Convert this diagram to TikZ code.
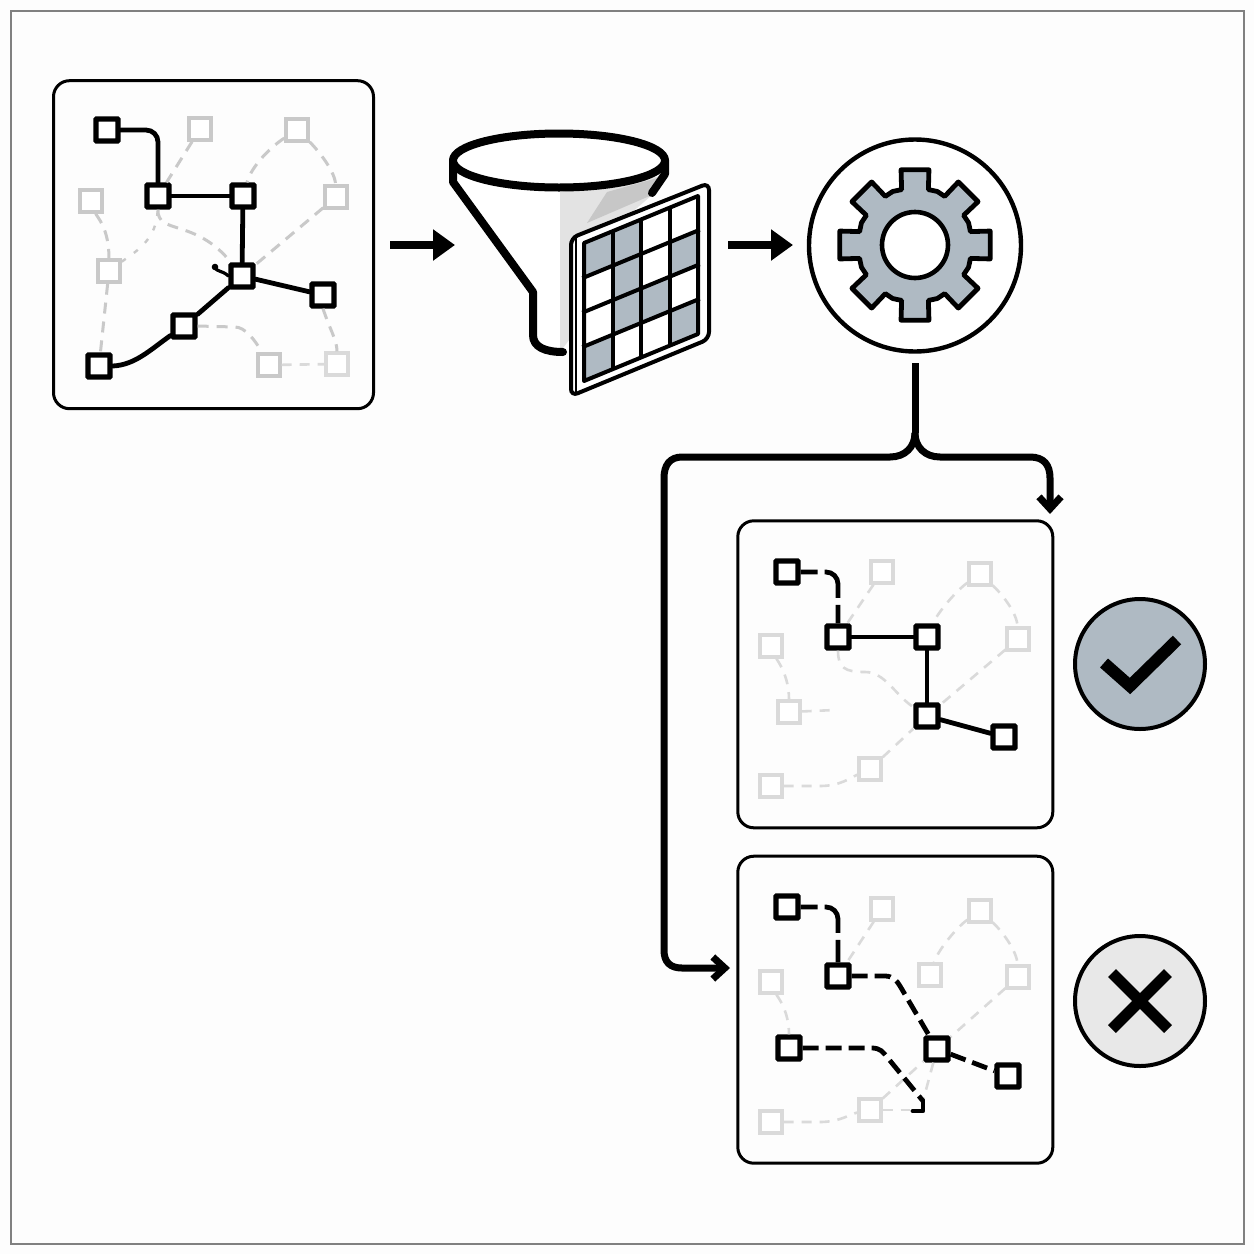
\documentclass[tikz,border=0pt]{standalone}
\usetikzlibrary{arrows.meta,calc}
\definecolor{bgc}{HTML}{FDFDFD}
\definecolor{slate}{HTML}{AFBAC3}
\definecolor{gA}{HTML}{C9C9C9}
\definecolor{gB}{HTML}{DADADA}
\tikzset{
  x=0.5pt,y=-0.5pt,
  panel/.style={draw=black,line width=1.5pt,rounded corners=8pt,fill=bgc},
  blk/.style={draw=black,fill=white,line width=2.6pt,minimum size=11pt,inner sep=0pt,rectangle,rounded corners=0.3pt},
  gryA/.style={draw=gA,fill=white,line width=1.7pt,minimum size=11pt,inner sep=0pt,rectangle},
  gryB/.style={draw=gB,fill=white,line width=1.6pt,minimum size=11pt,inner sep=0pt,rectangle},
  glineA/.style={draw=gA,line width=1.5pt,dash pattern=on 5.5pt off 4pt},
  glineB/.style={draw=gB,line width=1.3pt,dash pattern=on 5pt off 4pt},
  bline/.style={draw=black,line width=2.4pt,line cap=round,line join=round},
  bdash/.style={draw=black,line width=2.4pt,dash pattern=on 8pt off 3.5pt},
  bhook/.style={draw=black,line width=2.4pt,dash pattern=on 8.5pt off 3.5pt on 17pt off 3.5pt on 12pt off 0pt},
  bigarrow/.style={draw=black,line width=4pt,-{Triangle[length=11pt,width=15pt]}},
  branch/.style={draw=black,line width=3.5pt,-{Straight Barb[length=6pt,width=11pt]}},
  fun/.style={draw=black,line width=4pt,line cap=round,line join=round},
}
\begin{document}
\begin{tikzpicture}
\useasboundingbox (0,0) rectangle (1254,1254);
\fill[bgc] (0,0) rectangle (1254,1254);
\draw[draw=black!50,line width=0.7pt] (11,11) rectangle (1244,1244);

% ---------- panels
\node[panel,minimum width=160pt,minimum height=164pt,inner sep=0pt] (P1) at (213.5,244.7) {};
\node[panel,minimum width=157.5pt,minimum height=153.5pt,inner sep=0pt] (P2) at (895.3,674.3) {};
\node[panel,minimum width=157.5pt,minimum height=153.5pt,inner sep=0pt] (P3) at (895.3,1009.7) {};

% ---------- panel 1 nodes
\node[gryA] (h1) at (200,129) {};
\node[gryA] (i1) at (297,130) {};
\node[gryA] (j1) at (336,197) {};
\node[gryA] (k1) at (91,201) {};
\node[gryA] (l1) at (109,271) {};
\node[gryA] (m1) at (269,365) {};
\node[gryB] (n1) at (337,364) {};
\node[blk] (a1) at (107,130) {};
\node[blk] (b1) at (158,196) {};
\node[blk] (c1) at (243,196) {};
\node[blk] (d1) at (242,276) {};
\node[blk] (e1) at (323,295) {};
\node[blk] (f1) at (184,326) {};
\node[blk] (g1) at (99,366) {};
\coordinate (blob) at (215,267);
% panel 1 connectors
\draw[glineA] (h1) -- (b1);
\draw[glineA] (i1) .. controls (272,146) and (252,165) .. (c1);
\draw[glineA] (i1) .. controls (315,147) and (335,170) .. (j1);
\draw[glineA] (j1) -- (d1);
\draw[glineA] (k1) .. controls (97,217) and (109,228) .. (l1);
\draw[glineA] (l1) -- (g1);
\draw[draw=gA,line width=1.2pt,dash pattern=on 2.5pt off 5pt] (l1) .. controls (135,252) and (157,240) .. (b1);
\draw[glineA] (b1.south) .. controls (157,235) and (195,218) .. (d1);
\draw[glineA] (f1.east) -- (235,327) .. controls (245,327) and (255,340) .. (m1);
\draw[draw=gB,line width=1.3pt,dash pattern=on 5pt off 4pt] (m1) -- (n1);
\draw[glineA] (e1.south) .. controls (330,330) and (337,340) .. (n1.north);
\draw[bline,rounded corners=6pt] (a1.east) -| (b1.north);
\draw[bline] (b1) -- (c1);
\draw[bline] (c1) -- (d1);
\draw[bline] (d1) -- (e1);
\draw[bline] (d1) -- (f1);
\draw[bline] (f1) .. controls (150,350) and (135,365) .. (g1.east);
\fill (blob) circle[radius=3.3];
\draw[bline,line width=1.6pt] (blob) .. controls (216,272) and (222,270) .. (d1.west);

% ---------- funnel
\fill[white] (453,165) -- (665,165) -- (652,195) -- (600,345) -- (563,352)
  .. controls (545,352) and (533,347) .. (533,335) -- (533,292) -- (453,183) -- cycle;
\fill[black!11] (560,192) -- (662,176) -- (652,195) -- (600,240) -- (600,300) -- (563,348) -- (560,348) -- cycle;
\fill[black!22] (607,192) -- (661,177) -- (652,195) -- (587,223) -- cycle;
\coordinate (funtop) at (559,160.5);
\draw[fun] (453,160) -- (453,182) -- (533,292) -- (533,335) .. controls (533,347) and (545,352) .. (563,352);
\draw[fun] (665,160) -- (665,174) -- (652,193);
\draw[fun,fill=white] (funtop) ellipse[x radius=106,y radius=27];

% ---------- grid card
\draw[draw=black,line width=2pt,fill=white,rounded corners=3.5pt]
  (571,238) -- (709,183) -- (709,339) -- (571,396) -- cycle;
\draw[draw=black,line width=1.2pt] (576,237) -- (576,393);
\begin{scope}[shift={(584,243)},x={(14.25pt,5.875pt)},y={(0pt,-17.25pt)}]
  \foreach \cx/\cy in {0/0,1/0,1/1,3/1,1/2,2/2,0/3,3/3}
    \fill[slate] (\cx,\cy) -- ++(1,0) -- ++(0,1) -- ++(-1,0) -- cycle;
  \draw[draw=black,line width=2pt,line join=round] (0,0) -- (4,0) -- (4,4) -- (0,4) -- cycle;
  \foreach \t in {1,2,3} {
    \draw[draw=black,line width=2pt] (\t,0) -- (\t,4);
    \draw[draw=black,line width=2pt] (-0.06,\t) -- (4.06,\t);
  }
\end{scope}

% ---------- gear
\node[circle,draw=black,line width=2.2pt,fill=white,minimum size=106pt,inner sep=0pt] (G) at (915,245.5) {};
\begin{scope}[shift={(915,245)}]
  \draw[draw=black,fill=slate,line width=2.4pt,line join=round]
    (103.6:57)
    \foreach \t in {90,45,0,-45,-90,-135,-180,-225} {
       -- (\t+13.6:57) -- (\t+10.5:76.5) -- (\t-10.5:76.5) -- (\t-13.6:57) -- (\t-22.5:58)
    } -- cycle;
  \draw[draw=black,fill=white,line width=2.3pt] (0,0) circle[radius=33];
\end{scope}

% ---------- straight arrows
\coordinate (ar1s) at (390,245); \coordinate (ar1e) at (455,245);
\coordinate (ar2s) at (728,245); \coordinate (ar2e) at (793,245);
\draw[bigarrow] (ar1s) -- (ar1e);
\draw[bigarrow] (ar2s) -- (ar2e);

% ---------- branch
\coordinate (bs) at (915,363);
\coordinate (bj) at (915,433);
\coordinate (t1) at (1050,514);
\coordinate (t2) at (730,968);
\draw[draw=black,line width=3.5pt] (bs) -- (bj);
\draw[branch] (bj) .. controls (915,447) and (925,457) .. (940,457) -- (1030,457)
   .. controls (1044,457) and (1050,465) .. (1050,478) -- (t1);
\draw[branch] (bj) .. controls (915,447) and (905,457) .. (890,457) -- (682,457)
   .. controls (670,457) and (664,465) .. (664,478) -- (664,950)
   .. controls (664,962) and (670,968) .. (682,968) -- (t2);

% ---------- panel 2 nodes
\node[gryB] (h2) at (882,572) {};
\node[gryB] (i2) at (980,574) {};
\node[gryB] (j2) at (1018,639) {};
\node[gryB] (k2) at (771,646) {};
\node[gryB] (l2) at (789,712) {};
\node[gryB] (f2) at (870,769) {};
\node[gryB] (g2) at (771,786) {};
\node[blk] (a2) at (787,572) {};
\node[blk] (b2) at (838,637) {};
\node[blk] (c2) at (927,637) {};
\node[blk] (d2) at (927,716) {};
\node[blk] (e2) at (1004,737) {};
\coordinate (l2end) at (835,710);
\draw[glineB] (h2) -- (b2);
\draw[glineB] (i2) .. controls (957,590) and (938,612) .. (c2);
\draw[glineB] (i2) .. controls (1000,592) and (1017,612) .. (j2);
\draw[glineB] (j2) -- (d2);
\draw[glineB] (k2) .. controls (777,660) and (789,675) .. (l2);
\draw[glineB] (l2) -- (l2end);
\draw[glineB] (b2.south) .. controls (838,668) and (845,672) .. (865,672) .. controls (885,672) and (895,695) .. (d2);
\draw[glineB] (f2) -- (d2);
\draw[glineB] (g2.east) -- (820,786) .. controls (840,786) and (850,778) .. (f2);
\draw[bhook,rounded corners=6pt] (a2.east) -| (b2.north);
\draw[bline] (b2) -- (c2);
\draw[bline] (c2) -- (d2);
\draw[bline] (d2) -- (e2);

% ---------- panel 3 nodes
\node[gryB] (h3) at (882,909) {};
\node[gryB] (i3) at (980,911) {};
\node[gryB] (c3) at (930,975) {};
\node[gryB] (j3) at (1018,977) {};
\node[gryB] (k3) at (771,982) {};
\node[gryB] (f3) at (870,1110) {};
\node[gryB] (g3) at (771,1122) {};
\node[blk] (a3) at (787,907) {};
\node[blk] (b3) at (838,976) {};
\node[blk] (d3) at (937,1049) {};
\node[blk] (e3) at (1008,1076) {};
\node[blk] (l3) at (789,1048) {};
\coordinate (hk3) at (913,1111);
\coordinate (hk3b) at (923,1101);
\coordinate (hk3c) at (923,1111);
\coordinate (f3end) at (910,1110);
\draw[glineB] (h3) -- (b3);
\draw[glineB] (i3) .. controls (957,927) and (938,950) .. (c3);
\draw[glineB] (i3) .. controls (1000,929) and (1017,950) .. (j3);
\draw[glineB] (j3) -- (d3);
\draw[glineB] (k3) .. controls (777,996) and (789,1010) .. (l3);
\draw[glineB] (f3) -- (d3);
\draw[glineB] (d3) -- (hk3b);
\draw[glineB] (f3) -- (f3end);
\draw[glineB] (g3.east) -- (820,1122) .. controls (840,1122) and (850,1114) .. (f3);
\draw[bhook,rounded corners=6pt] (a3.east) -| (b3.north);
\draw[bdash] (b3.east) -- (885,976) .. controls (893,976) and (897,981) .. (900,986) -- (d3);
\draw[bdash] (l3.east) -- (872,1048) .. controls (880,1048) and (883,1052) .. (887,1057) -- (hk3b);
\draw[bline] (hk3b) -- (hk3c) -- (hk3);
\draw[bdash] (d3) -- (e3);

% ---------- badges
\node[circle,draw=black,line width=2pt,fill=slate,minimum size=65pt,inner sep=0pt] (ok) at (1140,664) {};
\node[circle,draw=black,line width=2pt,fill=black!9,minimum size=65pt,inner sep=0pt] (no) at (1140,1001) {};
\draw[draw=black,line width=6pt,miter limit=10] ($(ok)+(-36,-1)$) -- ($(ok)+(-10,22)$) -- ($(ok)+(37,-24)$);
\draw[draw=black,line width=5.5pt] ($(no)+(-28,-28)$) -- ($(no)+(28,28)$);
\draw[draw=black,line width=5.5pt] ($(no)+(-28,28)$) -- ($(no)+(28,-28)$);
\end{tikzpicture}
\end{document}
